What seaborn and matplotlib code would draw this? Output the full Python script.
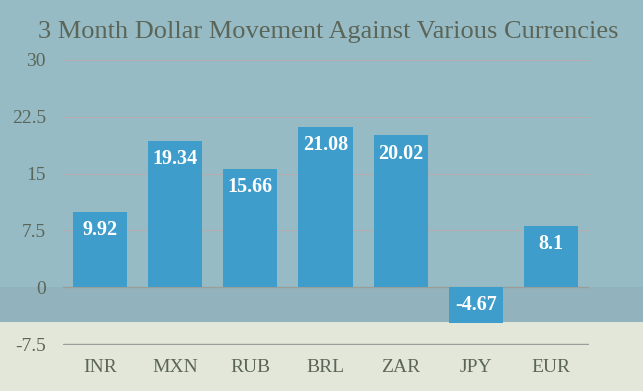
import numpy as np
import pandas as pd
import seaborn as sns
import matplotlib.pyplot as plt
from matplotlib.patches import Rectangle

# Chart data
currencies = ["INR", "MXN", "RUB", "BRL", "ZAR", "JPY", "EUR"]
movement = [9.92, 19.34, 15.66, 21.08, 20.02, -4.67, 8.1]
y_ticks = [-7.5, 0, 7.5, 15, 22.5, 30]
y_tick_labels = ["-7.5", "0", "7.5", "15", "22.5", "30"]
title = "3 Month Dollar Movement Against Various Currencies"

df = pd.DataFrame({"currency": currencies, "movement": movement})

sns.set_style("white")
plt.rcParams["font.family"] = ["Liberation Serif", "DejaVu Serif"]

text_color = "#5b6659"
bar_color = "#3f9dcc"

fig = plt.figure(figsize=(6.43, 3.91), dpi=100)
fig.patch.set_facecolor("#97bbc5")
# slightly darker band under the zero line, then the cream strip
fig.patches.append(Rectangle((0, 69 / 391), 1, 35 / 391, transform=fig.transFigure,
                             facecolor="#92b3bd", edgecolor="none", zorder=-6))
fig.patches.append(Rectangle((0, 0), 1, 69 / 391, transform=fig.transFigure,
                             facecolor="#e3e7d9", edgecolor="none", zorder=-5))

ax = fig.add_axes([62.5 / 643, 1 - 345 / 391, 526 / 643, (345 - 59) / 391])
ax.set_facecolor("none")

sns.barplot(data=df, x="currency", y="movement", color=bar_color,
            saturation=1, width=0.72, linewidth=0, ax=ax, zorder=3)

ax.set_xlim(-0.5, len(currencies) - 0.5)
ax.set_ylim(-7.6, 30.1)
ax.set_yticks(y_ticks)
ax.set_yticklabels(y_tick_labels)

for y in y_ticks:
    if y in (0, -7.5):
        ax.axhline(y, color="#9a9d98", lw=1.0, zorder=1)
    else:
        ax.axhline(y, color="#c4a3a3", lw=0.6, alpha=0.8, zorder=1)

for i, v in enumerate(movement):
    top = max(v, 0)
    ax.annotate(f"{v:g}", (i, top), xytext=(0, -13), textcoords="offset points",
                ha="center", va="center", color="white", fontsize=14.5,
                fontweight="bold", zorder=4)

ax.set_xlabel("")
ax.set_ylabel("")
ax.tick_params(axis="both", length=0, labelsize=14, colors=text_color)
ax.tick_params(axis="y", pad=12)
ax.tick_params(axis="x", pad=10)
sns.despine(ax=ax, left=True, bottom=True)

fig.text(328 / 643, 1 - 32 / 391, title, ha="center", va="center",
         fontsize=19, color=text_color)

fig.savefig("out.png", dpi=100, facecolor=fig.get_facecolor())
